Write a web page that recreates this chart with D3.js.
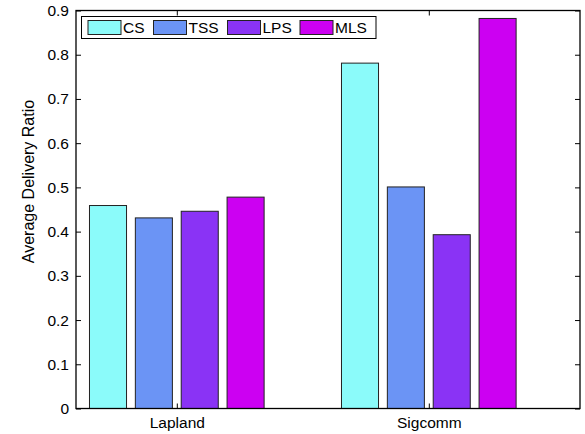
<!DOCTYPE html>
<html>
<head>
<meta charset="utf-8">
<script src="https://cdn.jsdelivr.net/npm/d3@7"></script>
<style>
  html, body { margin: 0; padding: 0; background: #fff; }
  svg { display: block; }
  text { font-family: "Liberation Sans", Arial, sans-serif; fill: #000; }
</style>
</head>
<body>
<svg id="chart" width="585" height="434"></svg>
<script>
// Datasets (x categories) and methods (series)
const datasets = ["Lapland", "Sigcomm"];
const methods = ["CS", "TSS", "LPS", "MLS"];
const colors = ["#8bfbfa", "#6b94f5", "#8a33f5", "#cc00f2"];

// Average delivery ratio per method, one value per dataset
const csValues  = [0.459, 0.781];
const tssValues = [0.431, 0.501];
const lpsValues = [0.446, 0.393];
const mlsValues = [0.478, 0.882];

const yTicks = [0, 0.1, 0.2, 0.3, 0.4, 0.5, 0.6, 0.7, 0.8, 0.9];

const series = [csValues, tssValues, lpsValues, mlsValues];

(function draw() {
  const svg = d3.select("#chart");
  const plotLeft = 76, plotRight = 580, plotTop = 10.5, plotBottom = 408.5;
  const fontSize = 15.5;

  // Group positions 1 and 2 on a numeric axis, like a grouped bar plot
  const x = d3.scaleLinear().domain([0.6, 2.6]).range([plotLeft, plotRight]);
  const y = d3.scaleLinear().domain([0, 0.9]).range([plotBottom, plotTop]);

  const barW = 0.147, barStep = 0.182;

  // Bars
  methods.forEach((m, j) => {
    svg.append("g")
      .selectAll("rect")
      .data(series[j])
      .join("rect")
      .attr("x", (d, i) => x(i + 1 + (j - 1.5) * barStep - barW / 2))
      .attr("width", x(barW) - x(0))
      .attr("y", d => y(d))
      .attr("height", d => y(0) - y(d))
      .attr("fill", colors[j])
      .attr("stroke", "#222")
      .attr("stroke-width", 1);
  });

  // Axes with inward ticks, mirrored on the opposite sides
  const tickLen = 5;
  const yAxisL = d3.axisLeft(y).tickValues(yTicks).tickSizeInner(-tickLen).tickSizeOuter(0)
    .tickPadding(7).tickFormat(d => d === 0 ? "0" : d3.format(".1f")(d));
  const yAxisR = d3.axisRight(y).tickValues(yTicks).tickSizeInner(-tickLen).tickSizeOuter(0).tickFormat("");
  const xAxisB = d3.axisBottom(x).tickValues([1, 2]).tickSizeInner(-tickLen).tickSizeOuter(0)
    .tickPadding(8.5).tickFormat(d => datasets[d - 1]);
  const xAxisT = d3.axisTop(x).tickValues([1, 2]).tickSizeInner(-tickLen).tickSizeOuter(0).tickFormat("");

  function styleAxis(g) {
    g.select(".domain").remove();
    g.selectAll(".tick line").attr("stroke", "#000").attr("stroke-width", 1);
    g.selectAll("text").attr("font-size", fontSize).attr("font-family", "Liberation Sans, Arial, sans-serif");
  }

  svg.append("g").attr("transform", `translate(${plotLeft},0)`).call(yAxisL).call(styleAxis);
  svg.append("g").attr("transform", `translate(${plotRight},0)`).call(yAxisR).call(styleAxis);
  svg.append("g").attr("transform", `translate(0,${plotBottom})`).call(xAxisB).call(styleAxis);
  svg.append("g").attr("transform", `translate(0,${plotTop})`).call(xAxisT).call(styleAxis);

  // Frame
  svg.append("rect")
    .attr("x", plotLeft).attr("y", plotTop)
    .attr("width", plotRight - plotLeft).attr("height", plotBottom - plotTop)
    .attr("fill", "none").attr("stroke", "#000").attr("stroke-width", 1.3);

  // Y axis title
  svg.append("text")
    .attr("transform", "translate(34,181.5) rotate(-90)")
    .attr("text-anchor", "middle")
    .attr("font-size", 16)
    .text("Average Delivery Ratio");

  // Legend
  const lg = svg.append("g");
  lg.append("rect")
    .attr("x", 81.5).attr("y", 16.5).attr("width", 294.5).attr("height", 22)
    .attr("fill", "#fff").attr("stroke", "#000").attr("stroke-width", 1);
  const swatchX = [88, 153.5, 227.5, 300];
  methods.forEach((m, j) => {
    lg.append("rect")
      .attr("x", swatchX[j]).attr("y", 20.5).attr("width", 33).attr("height", 14)
      .attr("fill", colors[j]).attr("stroke", "#222").attr("stroke-width", 1);
    lg.append("text")
      .attr("x", swatchX[j] + 35).attr("y", 27.8)
      .attr("dominant-baseline", "central")
      .attr("font-size", fontSize)
      .text(m);
  });
})();
</script>
</body>
</html>
